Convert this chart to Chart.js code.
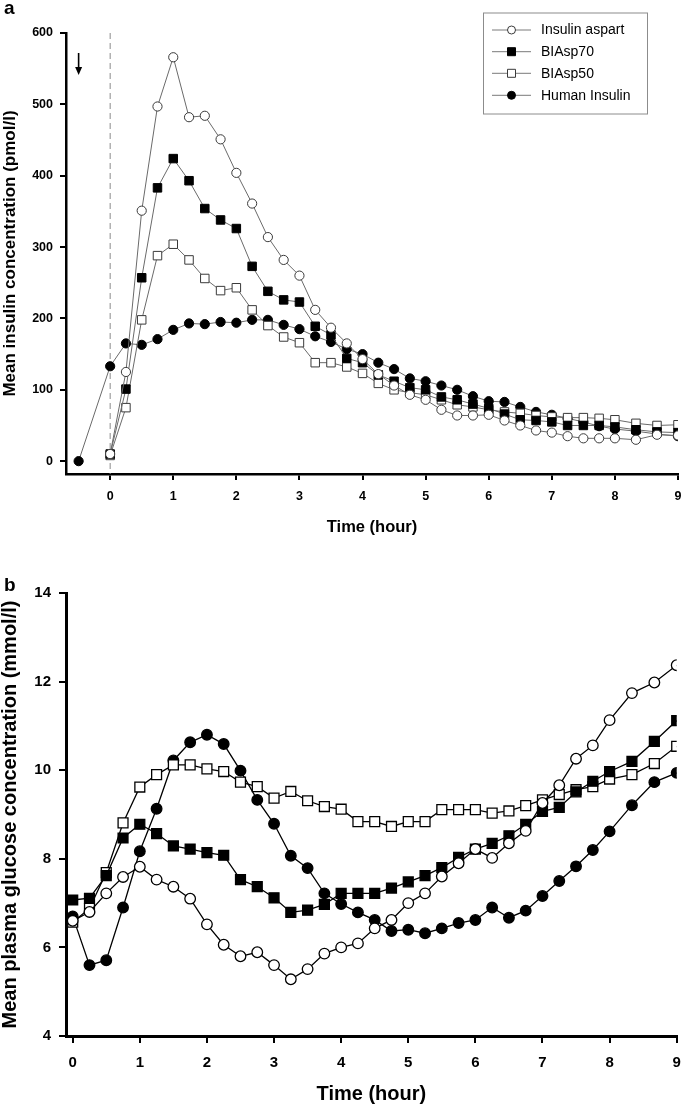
<!DOCTYPE html>
<html><head><meta charset="utf-8">
<script src="https://cdn.jsdelivr.net/npm/chart.js@4.4.1/dist/chart.umd.min.js"></script>
<style>
html,body{margin:0;padding:0;background:#fff;}
body{width:685px;height:1107px;position:relative;overflow:hidden;font-family:"Liberation Sans",Arial,sans-serif;}
canvas{position:absolute;left:0;}
#ca{top:0;}
#cb{top:560px;}
.pl{position:absolute;font-weight:bold;font-size:19px;line-height:1;color:#000;}
</style></head><body>
<canvas id="ca" width="685" height="550"></canvas>
<canvas id="cb" width="685" height="547"></canvas>
<div class="pl" style="left:4px;top:-2px">a</div>
<div class="pl" style="left:4px;top:575px">b</div>
<script>
// ---------- data ----------
const seriesNames = ['Insulin aspart', 'BIAsp70', 'BIAsp50', 'Human Insulin'];

const timeHours = [0,0.25,0.5,0.75,1,1.25,1.5,1.75,2,2.25,2.5,2.75,3,3.25,3.5,3.75,4,4.25,4.5,4.75,5,5.25,5.5,5.75,6,6.25,6.5,6.75,7,7.25,7.5,7.75,8,8.333,8.667,9];
const timeHoursHumanTop = [-0.5,0,0.25,0.5,0.75,1,1.25,1.5,1.75,2,2.25,2.5,2.75,3,3.25,3.5,3.75,4,4.25,4.5,4.75,5,5.25,5.5,5.75,6,6.25,6.5,6.75,7,7.25,7.5,7.75,8,8.333,8.667,9];

// panel a: insulin (pmol/l)
const insAspart = [10,125,351,497,566,482,484,451,404,361,314,282,260,212,187,165,143,122,106,93,86,72,64,64,65,57,50,43,40,35,32,32,32,30,37,36];
const insBIAsp70 = [10,101,257,383,424,393,354,338,326,273,238,226,223,189,177,144,138,121,112,103,100,90,86,80,74,66,58,57,55,50,50,50,48,44,41,40];
const insBIAsp50 = [8,75,198,288,304,282,256,239,243,212,190,174,166,138,138,132,123,109,100,96,93,86,79,76,72,69,67,64,62,61,61,60,58,53,50,51];
const insHuman = [0,133,165,163,171,184,193,192,195,194,198,198,191,185,175,167,157,150,138,129,116,112,106,100,91,84,83,76,69,65,60,55,49,45,42,38,35];

// panel b: glucose (mmol/l)
const gluAspart = [6.60,6.80,7.22,7.59,7.82,7.53,7.37,7.10,6.52,6.06,5.80,5.89,5.60,5.28,5.51,5.86,6.00,6.09,6.43,6.62,7.00,7.22,7.60,7.90,8.22,8.02,8.35,8.63,9.26,9.66,10.26,10.56,11.13,11.74,11.98,12.37];
const gluBIAsp70 = [7.07,7.11,7.62,8.47,8.78,8.57,8.29,8.22,8.14,8.08,7.53,7.37,7.12,6.79,6.84,6.97,7.22,7.22,7.22,7.34,7.48,7.62,7.80,8.03,8.22,8.35,8.52,8.78,9.07,9.16,9.51,9.75,9.97,10.20,10.65,11.12];
const gluBIAsp50 = [6.57,6.88,7.69,8.81,9.62,9.90,10.12,10.12,10.03,9.97,9.73,9.63,9.37,9.52,9.31,9.18,9.12,8.84,8.84,8.73,8.84,8.84,9.11,9.11,9.11,9.03,9.08,9.20,9.33,9.45,9.56,9.63,9.80,9.90,10.15,10.54];
const gluHuman = [6.70,5.60,5.71,6.90,8.17,9.13,10.22,10.63,10.80,10.59,9.99,9.33,8.79,8.07,7.79,7.22,6.98,6.79,6.62,6.37,6.40,6.32,6.43,6.55,6.62,6.90,6.67,6.83,7.16,7.50,7.83,8.20,8.62,9.21,9.73,9.94];

// tick labels
const xTickValues = [0,1,2,3,4,5,6,7,8,9];
const yTicksInsulin = [0,100,200,300,400,500,600];
const yTicksGlucose = [4,6,8,10,12,14];

const injectionTime = -0.5;
const injectionArrow = [572, 541];

// ---------- helpers ----------
const FONT = '"Liberation Sans", Arial, sans-serif';
function pts(xs, ys){ return ys.map((v,i)=>({x:xs[i], y:v})); }

function makeDataset(label, data, style, big){
  const filled = style.filled;
  return {
    label, data,
    showLine: true,
    borderColor: big ? '#000' : '#6a6a6a',
    borderWidth: big ? 1.3 : 1,
    pointStyle: style.shape,
    pointRadius: style.shape === 'rect' ? (big ? 7 : 6) : (big ? 5.3 : 4.6),
    pointBackgroundColor: filled ? '#000' : '#fff',
    pointBorderColor: big ? '#000' : (filled ? '#000' : '#3a3a3a'),
    pointBorderWidth: big ? 1.3 : 1,
    fill: false,
    tension: 0,
    order: style.order
  };
}
const styles = [
  {shape:'circle', filled:false, order:1},
  {shape:'rect', filled:true, order:2},
  {shape:'rect', filled:false, order:3},
  {shape:'circle', filled:true, order:4}
];

function scaleX(min, height, fontSize, pad, tickLen, borderW, titleSize, titlePadBottom){
  return {
    type:'linear', min, max:9,
    afterBuildTicks: s => { s.ticks = xTickValues.map(v=>({value:v})); },
    afterFit: s => { s.height = height; s.paddingLeft = 0; s.paddingRight = 0; },
    ticks:{ font:{family:FONT, size:fontSize, weight:'bold'}, color:'#000', padding:pad, autoSkip:false, maxRotation:0, callback: v => String(v) },
    grid:{ drawOnChartArea:false, color:'#000', lineWidth:2, tickLength:tickLen },
    border:{ color:'#000', width:borderW },
    title:{ display:true, text:'Time (hour)', color:'#000', font:{family:FONT, size:titleSize, weight:'bold', lineHeight:1}, padding:{top:0, bottom:titlePadBottom} }
  };
}
function scaleY(min, max, tickVals, fontSize, pad, tickLen, borderW, title, titleSize, titlePadTop){
  return {
    type:'linear', min, max,
    afterBuildTicks: s => { s.ticks = tickVals.map(v=>({value:v})); },
    afterFit: s => { s.width = 66; s.paddingTop = 0; s.paddingBottom = 0; },
    ticks:{ font:{family:FONT, size:fontSize, weight:'bold'}, color:'#000', padding:pad, callback: v => String(v) },
    grid:{ drawOnChartArea:false, color:'#000', lineWidth:2, tickLength:tickLen },
    border:{ color:'#000', width:borderW },
    title:{ display:true, text:title, color:'#000', font:{family:FONT, size:titleSize, weight:'bold', lineHeight:1}, padding:{top:titlePadTop, bottom:0} }
  };
}

// ---------- panel a plugins ----------
const panelAExtras = {
  id:'panelAExtras',
  beforeDatasetsDraw(chart){
    const {ctx, chartArea, scales:{x, y}} = chart;
    const px = x.getPixelForValue(0);
    ctx.save();
    ctx.strokeStyle = '#8a8a8a';
    ctx.lineWidth = 1;
    ctx.setLineDash([6,4]);
    ctx.beginPath();
    ctx.moveTo(px, chartArea.top);
    ctx.lineTo(px, chartArea.bottom);
    ctx.stroke();
    ctx.restore();
  },
  afterDraw(chart){
    const {ctx, scales:{x, y}} = chart;
    // injection arrow
    const ax = x.getPixelForValue(injectionTime);
    const ay1 = y.getPixelForValue(injectionArrow[0]);
    const ay2 = y.getPixelForValue(injectionArrow[1]);
    ctx.save();
    ctx.strokeStyle = '#000'; ctx.fillStyle = '#000'; ctx.lineWidth = 1.6;
    ctx.beginPath(); ctx.moveTo(ax, ay1); ctx.lineTo(ax, ay2 - 6); ctx.stroke();
    ctx.beginPath(); ctx.moveTo(ax - 3.5, ay2 - 8); ctx.lineTo(ax + 3.5, ay2 - 8); ctx.lineTo(ax, ay2); ctx.closePath(); ctx.fill();
    // legend
    const bx = 483, by = 12.5, bw = 164, bh = 101;
    ctx.strokeStyle = '#8c8c8c'; ctx.lineWidth = 1; ctx.setLineDash([]);
    ctx.strokeRect(bx + 0.5, by + 0.5, bw, bh);
    const rows = [30, 51.7, 73.3, 95.3];
    ctx.font = '14px ' + FONT;
    ctx.textBaseline = 'middle';
    chart.data.datasets.forEach((ds, i) => {
      const ry = rows[i];
      ctx.strokeStyle = '#7a7a7a'; ctx.lineWidth = 1;
      ctx.beginPath(); ctx.moveTo(492, ry); ctx.lineTo(531, ry); ctx.stroke();
      ctx.fillStyle = ds.pointBackgroundColor;
      ctx.strokeStyle = ds.pointBorderColor;
      ctx.beginPath();
      if (ds.pointStyle === 'circle') ctx.arc(511.5, ry, 4, 0, Math.PI*2);
      else ctx.rect(507.5, ry - 4, 8, 8);
      ctx.fill(); ctx.stroke();
      ctx.fillStyle = '#000';
      ctx.fillText(ds.label, 541, ry + 0.5);
    });
    ctx.restore();
  }
};

// ---------- panel a ----------
new Chart(document.getElementById('ca'), {
  type:'line',
  data:{ datasets:[
    makeDataset(seriesNames[0], pts(timeHours, insAspart), styles[0], false),
    makeDataset(seriesNames[1], pts(timeHours, insBIAsp70), styles[1], false),
    makeDataset(seriesNames[2], pts(timeHours, insBIAsp50), styles[2], false),
    makeDataset(seriesNames[3], pts(timeHoursHumanTop, insHuman), styles[3], false)
  ]},
  options:{
    responsive:false, animation:false, devicePixelRatio:1,
    layout:{ padding:{top:33, right:6, left:0, bottom:0} },
    plugins:{ legend:{display:false}, tooltip:{enabled:false} },
    scales:{
      x: scaleX(-0.7, 76, 12.5, 9.5, 6, 2.5, 16.5, 14),
      y: scaleY(-18, 600, yTicksInsulin, 12.5, 7, 6, 2.5, 'Mean insulin concentration (pmol/l)', 17, 1.5)
    }
  },
  plugins:[panelAExtras]
});

// ---------- panel b ----------
new Chart(document.getElementById('cb'), {
  type:'line',
  data:{ datasets:[
    makeDataset(seriesNames[0], pts(timeHours, gluAspart), styles[0], true),
    makeDataset(seriesNames[1], pts(timeHours, gluBIAsp70), styles[1], true),
    makeDataset(seriesNames[2], pts(timeHours, gluBIAsp50), styles[2], true),
    makeDataset(seriesNames[3], pts(timeHours, gluHuman), styles[3], true)
  ]},
  options:{
    responsive:false, animation:false, devicePixelRatio:1,
    layout:{ padding:{top:33, right:7, left:0, bottom:0} },
    plugins:{ legend:{display:false}, tooltip:{enabled:false} },
    scales:{
      x: scaleX(-0.1, 71, 15, 11, 7, 3, 20, 3),
      y: scaleY(4, 14, yTicksGlucose, 15, 8, 7, 3, 'Mean plasma glucose concentration (mmol/l)', 20, 0)
    }
  }
});
</script>
</body></html>
